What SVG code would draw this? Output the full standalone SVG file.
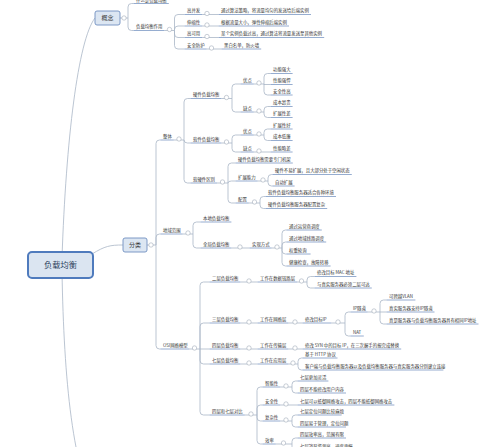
<svg xmlns="http://www.w3.org/2000/svg" width="500" height="447" viewBox="0 0 500 447">
<style>
text{font-family:"Noto Sans CJK SC","Noto Sans",sans-serif;fill:#333}
.t{font-size:4.4px}
.m{font-size:6px;text-anchor:middle}
.r{font-size:8.2px;text-anchor:middle;fill:#2b3f5c}
.u{stroke:#7b98c4;stroke-width:0.8}
.c{fill:#fff;stroke:#a3adba;stroke-width:0.6}
#connectors path{fill:none;stroke:#aab6c6;stroke-width:0.8}
</style>
<rect width="500" height="447" fill="#fff"/>
<g id="connectors">
<path d="M62,258 C66,140 78,40 95,18"/>
<path d="M62,272 C64,380 72,470 100,520"/>
<path d="M92,254 C105,246 110,245 123,245"/>
<path d="M120,18 H128 M128,18 V7 Q128,3.5 131.5,3.5 H133.5 M128,18 V27 Q128,30.5 131.5,30.5 H133.5"/>
<path d="M164.4,30.5 H174.5 M174.5,30.5 V18 Q174.5,14.5 178,14.5 H184.5 M174.5,30.5 V29.5 Q174.5,26 178,26 H184.5 M174.5,30.5 V34 Q174.5,37.5 178,37.5 H184.5 M174.5,30.5 V45.5 Q174.5,49 178,49 H184.5"/>
<path d="M202.2,14.5 H218.5 M202.2,26 H218.5 M202.2,37.5 H218.5 M206.6,49 H221.5"/>
<path d="M147,245 H156 M156,245 V143.5 Q156,140 159.5,140 H160.5 M156,245 V237.5 Q156,234 159.5,234 H160.5 M156,245 V345.5 Q156,349 159.5,349 H160.5"/>
<path d="M173.8,140 H184 M184,140 V102 Q184,98.5 187.5,98.5 H190.5 M184,140 Q184,143 187.5,143 H190.5 M184,140 V179.5 Q184,183 187.5,183 H190.5"/>
<path d="M221.4,98.5 H232 M232,98.5 V87.5 Q232,84 235.5,84 H240.5 M232,98.5 V108.5 Q232,112 235.5,112 H240.5"/>
<path d="M253.8,84 H264 M264,84 V77 Q264,73.5 267.5,73.5 H270.5 M264,84 L264,84.5 H270.5 M264,84 V91.5 Q264,95 267.5,95 H270.5"/>
<path d="M253.8,112 H264 M264,112 V110 Q264,106.5 267.5,106.5 H270.5 M264,112 V114 Q264,117.5 267.5,117.5 H270.5"/>
<path d="M221.4,143 H232 M232,143 V138.5 Q232,135 235.5,135 H240.5 M232,143 V148.5 Q232,152 235.5,152 H240.5"/>
<path d="M253.8,135 H264 M264,135 V132.5 Q264,129 267.5,129 H270.5 M264,135 V137 Q264,140.5 267.5,140.5 H270.5"/>
<path d="M253.8,152 H270.5"/>
<path d="M217,183 H228 M228,183 V166.5 Q228,163 231.5,163 H235.5 M228,183 Q228,181 231.5,181 H235.5 M228,183 V199.5 Q228,203 231.5,203 H235.5"/>
<path d="M257.6,181 H268 M268,181 V178 Q268,174.5 271.5,174.5 H272.5 M268,181 V182.5 Q268,186 271.5,186 H272.5"/>
<path d="M248.8,203 H260 M260,203 V200 Q260,196.5 263.5,196.5 H265.5 M260,203 V205 Q260,208.5 263.5,208.5 H265.5"/>
<path d="M182.6,234 H193 M193,234 V225.5 Q193,222 196.5,222 H200.5 M193,234 V244.5 Q193,248 196.5,248 H200.5"/>
<path d="M231.4,248 H249.5 M271.6,248 H282 M282,248 V233.5 Q282,230 285.5,230 H286.5 M282,248 V245.5 Q282,242 285.5,242 H286.5 M282,248 V250.5 Q282,254 285.5,254 H286.5 M282,248 V262.5 Q282,266 285.5,266 H286.5"/>
<path d="M189.2,349 H200 M200,349 V285.5 Q200,282 203.5,282 H209.5 M200,349 V326.5 Q200,323 203.5,323 H209.5 M200,349 H209.5 M200,349 V360.5 Q200,364 203.5,364 H209.5 M200,349 V411.5 Q200,415 203.5,415 H209.5"/>
<path d="M240.4,282 H257.5 M297.2,282 H307 M307,282 V280 Q307,276.5 310.5,276.5 H314.5 M307,282 V284.5 Q307,288 310.5,288 H314.5"/>
<path d="M240.4,323 H257.5 M288.4,323 H302.5 M331.2,323 H345 M345,323 V315.5 Q345,312 348.5,312 H350.5 M345,323 V332.5 Q345,336 348.5,336 H350.5"/>
<path d="M367.7,312 H380 M380,312 V303.5 Q380,300 383.5,300 H386.5 M380,312 H386.5 M380,312 V320.5 Q380,324 383.5,324 H386.5"/>
<path d="M240.4,349 H257.5 M288.4,349 H302.5"/>
<path d="M240.4,364 H257.5 M288.4,364 H298 M298,364 V361.5 Q298,358 301.5,358 H302.5 M298,364 V366.5 Q298,370 301.5,370 H302.5"/>
<path d="M244.8,415 H257 M257,415 V390.5 Q257,387 260.5,387 H262.5 M257,415 V408.5 Q257,405 260.5,405 H262.5 M257,415 V417.5 Q257,421 260.5,421 H262.5 M257,415 V440.5 Q257,444 260.5,444 H262.5"/>
<path d="M280.2,387 H292 M292,387 V384.5 Q292,381 295.5,381 H297.5 M292,387 V389.5 Q292,393 295.5,393 H297.5"/>
<path d="M280.2,405 H297.5"/>
<path d="M280.2,421 H292 M292,421 V418.5 Q292,415 295.5,415 H297.5 M292,421 V423.5 Q292,427 295.5,427 H297.5"/>
<path d="M275.8,444 H292 M292,444 V441.5 Q292,438 295.5,438 H297.5 M292,444 V446.5 Q292,450 295.5,450 H297.5"/>
</g>

<g id="n-root"><rect x="28" y="252" width="65" height="26" rx="4" fill="#dbe5f1" stroke="#4f7bbd" stroke-width="2"/><text class="r" x="60.5" y="268">负载均衡</text></g>
<g id="n-gainian"><rect x="95" y="11" width="25" height="14" rx="2" fill="#dce6f2" stroke="#6f8fbf" stroke-width="0.9"/><text class="m" x="107.5" y="20.2">概念</text><circle class="c" cx="124" cy="18" r="2.2"/></g>
<g id="n-fenlei"><rect x="123" y="238" width="24" height="14" rx="2" fill="#dce6f2" stroke="#6f8fbf" stroke-width="0.9"/><text class="m" x="135" y="247.2">分类</text><circle class="c" cx="151" cy="245" r="2.2"/></g>

<g id="n-what"><text class="t" x="136" y="1.8">什么是负载均衡</text><line class="u" x1="133.5" y1="3.5" x2="168.8" y2="3.5"/></g>
<g id="n-role"><text class="t" x="136" y="28.1">负载均衡作用</text><line class="u" x1="133.5" y1="30.5" x2="164.4" y2="30.5"/><circle class="c" cx="169.5" cy="29.5" r="2.2"/></g>
<g id="n-gbf"><text class="t" x="187" y="12.1">高并发</text><line class="u" x1="184.5" y1="14.5" x2="202.2" y2="14.5"/><circle class="c" cx="207" cy="13.5" r="2.2"/></g>
<g id="n-gbf1"><text class="t" x="221" y="12.1">通过算法策略，将流量均匀的发送给后端实例</text><line class="u" x1="218.5" y1="14.5" x2="311" y2="14.5"/></g>
<g id="n-ssx"><text class="t" x="187" y="23.6">伸缩性</text><line class="u" x1="184.5" y1="26" x2="202.2" y2="26"/><circle class="c" cx="207" cy="25" r="2.2"/></g>
<g id="n-ssx1"><text class="t" x="221" y="23.6">根据流量大小，弹性伸缩后端实例</text><line class="u" x1="218.5" y1="26" x2="289" y2="26"/></g>
<g id="n-gky"><text class="t" x="187" y="35.1">高可用</text><line class="u" x1="184.5" y1="37.5" x2="202.2" y2="37.5"/><circle class="c" cx="207" cy="36.5" r="2.2"/></g>
<g id="n-gky1"><text class="t" x="221" y="35.1">某个实例负载过高，通过算法将流量发送至其他实例</text><line class="u" x1="218.5" y1="37.5" x2="324.2" y2="37.5"/></g>
<g id="n-aqfh"><text class="t" x="187" y="46.6">安全防护</text><line class="u" x1="184.5" y1="49" x2="206.6" y2="49"/><circle class="c" cx="211.5" cy="48" r="2.2"/></g>
<g id="n-aqfh1"><text class="t" x="224" y="46.6">黑白名单，防火墙</text><line class="u" x1="221.5" y1="49" x2="261.2" y2="49"/></g>

<g id="n-zt"><text class="t" x="163" y="137.6">整体</text><line class="u" x1="160.5" y1="140" x2="173.8" y2="140"/><circle class="c" cx="179" cy="139" r="2.2"/></g>
<g id="n-yj"><text class="t" x="193" y="96.1">硬件负载均衡</text><line class="u" x1="190.5" y1="98.5" x2="221.4" y2="98.5"/><circle class="c" cx="226.5" cy="97.5" r="2.2"/></g>
<g id="n-yj-yd"><text class="t" x="243" y="81.6">优点</text><line class="u" x1="240.5" y1="84" x2="253.8" y2="84"/><circle class="c" cx="259" cy="83" r="2.2"/></g>
<g id="n-yj-yd1"><text class="t" x="273" y="71.1">功能强大</text><line class="u" x1="270.5" y1="73.5" x2="292.6" y2="73.5"/></g>
<g id="n-yj-yd2"><text class="t" x="273" y="82.1">性能强悍</text><line class="u" x1="270.5" y1="84.5" x2="292.6" y2="84.5"/></g>
<g id="n-yj-yd3"><text class="t" x="273" y="92.6">安全性高</text><line class="u" x1="270.5" y1="95" x2="292.6" y2="95"/></g>
<g id="n-yj-qd"><text class="t" x="243" y="109.6">缺点</text><line class="u" x1="240.5" y1="112" x2="253.8" y2="112"/><circle class="c" cx="259" cy="111" r="2.2"/></g>
<g id="n-yj-qd1"><text class="t" x="273" y="104.1">成本昂贵</text><line class="u" x1="270.5" y1="106.5" x2="292.6" y2="106.5"/></g>
<g id="n-yj-qd2"><text class="t" x="273" y="115.1">扩展性差</text><line class="u" x1="270.5" y1="117.5" x2="292.6" y2="117.5"/></g>
<g id="n-rj"><text class="t" x="193" y="140.6">软件负载均衡</text><line class="u" x1="190.5" y1="143" x2="221.4" y2="143"/><circle class="c" cx="226.5" cy="142" r="2.2"/></g>
<g id="n-rj-yd"><text class="t" x="243" y="132.6">优点</text><line class="u" x1="240.5" y1="135" x2="253.8" y2="135"/><circle class="c" cx="259" cy="134" r="2.2"/></g>
<g id="n-rj-yd1"><text class="t" x="273" y="126.6">扩展性好</text><line class="u" x1="270.5" y1="129" x2="292.6" y2="129"/></g>
<g id="n-rj-yd2"><text class="t" x="273" y="138.1">成本低廉</text><line class="u" x1="270.5" y1="140.5" x2="292.6" y2="140.5"/></g>
<g id="n-rj-qd"><text class="t" x="243" y="149.6">缺点</text><line class="u" x1="240.5" y1="152" x2="253.8" y2="152"/><circle class="c" cx="259" cy="151" r="2.2"/></g>
<g id="n-rj-qd1"><text class="t" x="273" y="149.6">性能略差</text><line class="u" x1="270.5" y1="152" x2="292.6" y2="152"/></g>
<g id="n-qb"><text class="t" x="193" y="180.6">软硬件区别</text><line class="u" x1="190.5" y1="183" x2="217" y2="183"/><circle class="c" cx="222.5" cy="182" r="2.2"/></g>
<g id="n-qb1"><text class="t" x="238" y="160.6">硬件负载均衡需要专门机架</text><line class="u" x1="235.5" y1="163" x2="292.8" y2="163"/></g>
<g id="n-qb2"><text class="t" x="238" y="178.6">扩展能力</text><line class="u" x1="235.5" y1="181" x2="257.6" y2="181"/><circle class="c" cx="263" cy="180" r="2.2"/></g>
<g id="n-qb21"><text class="t" x="275" y="172.1">硬件不易扩展，且大部分处于空闲状态</text><line class="u" x1="272.5" y1="174.5" x2="351.8" y2="174.5"/></g>
<g id="n-qb22"><text class="t" x="275" y="183.6">自动扩展</text><line class="u" x1="272.5" y1="186" x2="294.6" y2="186"/></g>
<g id="n-qb3"><text class="t" x="238" y="200.6">配置</text><line class="u" x1="235.5" y1="203" x2="248.8" y2="203"/><circle class="c" cx="254.5" cy="202" r="2.2"/></g>
<g id="n-qb31"><text class="t" x="268" y="194.1">软件负载均衡服务器适合各种环境</text><line class="u" x1="265.5" y1="196.5" x2="336" y2="196.5"/></g>
<g id="n-qb32"><text class="t" x="268" y="206.1">硬件负载均衡服务器配置复杂</text><line class="u" x1="265.5" y1="208.5" x2="327.2" y2="208.5"/></g>

<g id="n-dy"><text class="t" x="163" y="231.6">地域范围</text><line class="u" x1="160.5" y1="234" x2="182.6" y2="234"/><circle class="c" cx="188" cy="233" r="2.2"/></g>
<g id="n-bd"><text class="t" x="203" y="219.6">本地负载均衡</text><line class="u" x1="200.5" y1="222" x2="231.4" y2="222"/></g>
<g id="n-qj"><text class="t" x="203" y="245.6">全局负载均衡</text><line class="u" x1="200.5" y1="248" x2="231.4" y2="248"/><circle class="c" cx="240" cy="247" r="2.2"/></g>
<g id="n-sx"><text class="t" x="252" y="245.6">实现方式</text><line class="u" x1="249.5" y1="248" x2="271.6" y2="248"/><circle class="c" cx="277" cy="247" r="2.2"/></g>
<g id="n-sx1"><text class="t" x="289" y="227.6">通过运营商调度</text><line class="u" x1="286.5" y1="230" x2="321.8" y2="230"/></g>
<g id="n-sx2"><text class="t" x="289" y="239.6">通过地域线路调度</text><line class="u" x1="286.5" y1="242" x2="326.2" y2="242"/></g>
<g id="n-sx3"><text class="t" x="289" y="251.6">权重轮询</text><line class="u" x1="286.5" y1="254" x2="310.6" y2="254"/></g>
<g id="n-sx4"><text class="t" x="289" y="263.6">健康检查，故障转移</text><line class="u" x1="286.5" y1="266" x2="330.6" y2="266"/></g>

<g id="n-osi"><text class="t" x="163" y="346.6">OSI网络模型</text><line class="u" x1="160.5" y1="349" x2="189.2" y2="349"/><circle class="c" cx="194.5" cy="348" r="2.2"/></g>
<g id="n-l2"><text class="t" x="212" y="279.6">二层负载均衡</text><line class="u" x1="209.5" y1="282" x2="240.4" y2="282"/><circle class="c" cx="249" cy="281" r="2.2"/></g>
<g id="n-l2a"><text class="t" x="260" y="279.6">工作在数据链路层</text><line class="u" x1="257.5" y1="282" x2="297.2" y2="282"/><circle class="c" cx="301.5" cy="281" r="2.2"/></g>
<g id="n-l2a1"><text class="t" x="317" y="274.1">修改目标 MAC 地址</text><line class="u" x1="314.5" y1="276.5" x2="356.4" y2="276.5"/></g>
<g id="n-l2a2"><text class="t" x="317" y="285.6">与真实服务器必须二层可达</text><line class="u" x1="314.5" y1="288" x2="371.8" y2="288"/></g>
<g id="n-l3"><text class="t" x="212" y="320.6">三层负载均衡</text><line class="u" x1="209.5" y1="323" x2="240.4" y2="323"/><circle class="c" cx="249" cy="322" r="2.2"/></g>
<g id="n-l3a"><text class="t" x="260" y="320.6">工作在网络层</text><line class="u" x1="257.5" y1="323" x2="288.4" y2="323"/><circle class="c" cx="295" cy="322" r="2.2"/></g>
<g id="n-l3b"><text class="t" x="305" y="320.6">修改目标IP</text><line class="u" x1="302.5" y1="323" x2="331.2" y2="323"/><circle class="c" cx="338" cy="322" r="2.2"/></g>
<g id="n-ipsd"><text class="t" x="353" y="309.6">IP隧道</text><line class="u" x1="350.5" y1="312" x2="367.7" y2="312"/><circle class="c" cx="374" cy="311" r="2.2"/></g>
<g id="n-ipsd1"><text class="t" x="389" y="297.6">可跨越VLAN</text><line class="u" x1="386.5" y1="300" x2="415.4" y2="300"/></g>
<g id="n-ipsd2"><text class="t" x="389" y="309.6">真实服务器支持IP隧道</text><line class="u" x1="386.5" y1="312" x2="434.5" y2="312"/></g>
<g id="n-ipsd3"><text class="t" x="389" y="321.6">真是服务器与负载均衡服务器具有相同IP地址</text><line class="u" x1="386.5" y1="324" x2="478.5" y2="324"/></g>
<g id="n-nat"><text class="t" x="353" y="333.6">NAT</text><line class="u" x1="350.5" y1="336" x2="363.8" y2="336"/></g>
<g id="n-l4"><text class="t" x="212" y="346.6">四层负载均衡</text><line class="u" x1="209.5" y1="349" x2="240.4" y2="349"/><circle class="c" cx="249" cy="348" r="2.2"/></g>
<g id="n-l4a"><text class="t" x="260" y="346.6">工作在传输层</text><line class="u" x1="257.5" y1="349" x2="288.4" y2="349"/><circle class="c" cx="295" cy="348" r="2.2"/></g>
<g id="n-l4a1"><text class="t" x="305" y="346.6">修改 SYN 中的目标 IP，在三次握手的报完成替换</text><line class="u" x1="302.5" y1="349" x2="401.2" y2="349"/></g>
<g id="n-l7"><text class="t" x="212" y="361.6">七层负载均衡</text><line class="u" x1="209.5" y1="364" x2="240.4" y2="364"/><circle class="c" cx="249" cy="363" r="2.2"/></g>
<g id="n-l7a"><text class="t" x="260" y="361.6">工作在应用层</text><line class="u" x1="257.5" y1="364" x2="288.4" y2="364"/><circle class="c" cx="293" cy="363" r="2.2"/></g>
<g id="n-l7a1"><text class="t" x="305" y="355.6">基于 HTTP 协议</text><line class="u" x1="302.5" y1="358" x2="337.5" y2="358"/></g>
<g id="n-l7a2"><text class="t" x="305" y="367.6">客户端与负载均衡服务器以及负载均衡服务器与真实服务器分别建立连接</text><line class="u" x1="302.5" y1="370" x2="443.4" y2="370"/></g>
<g id="n-db"><text class="t" x="212" y="412.6">四层和七层对比</text><line class="u" x1="209.5" y1="415" x2="244.8" y2="415"/><circle class="c" cx="251" cy="414" r="2.2"/></g>
<g id="n-zn"><text class="t" x="265" y="384.6">智能性</text><line class="u" x1="262.5" y1="387" x2="280.2" y2="387"/><circle class="c" cx="286" cy="386" r="2.2"/></g>
<g id="n-zn1"><text class="t" x="300" y="378.6">七层更加灵活</text><line class="u" x1="297.5" y1="381" x2="328.4" y2="381"/></g>
<g id="n-zn2"><text class="t" x="300" y="390.6">四层不能修改用户内容</text><line class="u" x1="297.5" y1="393" x2="346" y2="393"/></g>
<g id="n-aq"><text class="t" x="265" y="402.6">安全性</text><line class="u" x1="262.5" y1="405" x2="280.2" y2="405"/><circle class="c" cx="286" cy="404" r="2.2"/></g>
<g id="n-aq1"><text class="t" x="300" y="402.6">七层可以抵御网络攻击，四层不能抵御网络攻击</text><line class="u" x1="297.5" y1="405" x2="394.4" y2="405"/></g>
<g id="n-fz"><text class="t" x="265" y="418.6">复杂性</text><line class="u" x1="262.5" y1="421" x2="280.2" y2="421"/><circle class="c" cx="286" cy="420" r="2.2"/></g>
<g id="n-fz1"><text class="t" x="300" y="412.6">七层定位问题比较麻烦</text><line class="u" x1="297.5" y1="415" x2="341.6" y2="415"/></g>
<g id="n-fz2"><text class="t" x="300" y="424.6">四层易于管理，定位问题</text><line class="u" x1="297.5" y1="427" x2="346" y2="427"/></g>
<g id="n-xl"><text class="t" x="265" y="441.6">效率</text><line class="u" x1="262.5" y1="444" x2="275.8" y2="444"/><circle class="c" cx="283.5" cy="443" r="2.2"/></g>
<g id="n-xl1"><text class="t" x="300" y="435.6">四层效率高，范围有限</text><line class="u" x1="297.5" y1="438" x2="346" y2="438"/></g>
<g id="n-xl2"><text class="t" x="300" y="447.6">七层消耗资源高，速度更慢</text><line class="u" x1="297.5" y1="450" x2="354.8" y2="450"/></g>
</svg>
